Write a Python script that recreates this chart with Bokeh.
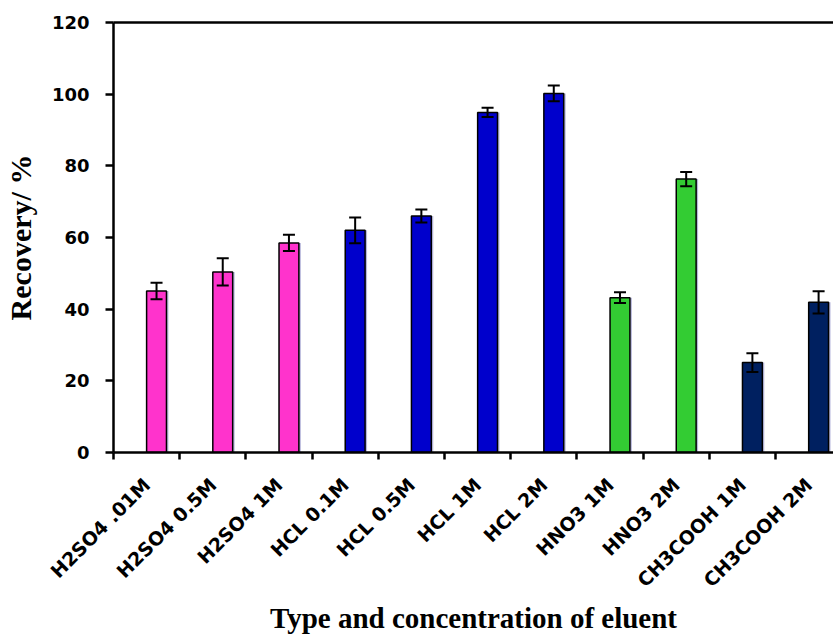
import math
from bokeh.plotting import figure
from bokeh.models import (ColumnDataSource, Range1d, FixedTicker, LinearAxis,
                          Whisker, TeeHead)
from bokeh.embed import file_html
from bokeh.resources import INLINE

# ---- data ----
categories = ["H2SO4 .01M", "H2SO4 0.5M", "H2SO4 1M", "HCL 0.1M", "HCL 0.5M",
              "HCL 1M", "HCL 2M", "HNO3 1M", "HNO3 2M", "CH3COOH 1M", "CH3COOH 2M"]
recovery = [45.1, 50.4, 58.5, 62.0, 66.0, 94.9, 100.2, 43.2, 76.3, 25.1, 41.9]
errors = [2.3, 3.8, 2.3, 3.6, 1.8, 1.3, 2.2, 1.5, 2.0, 2.6, 3.1]
acid_group = ["H2SO4"] * 3 + ["HCL"] * 4 + ["HNO3"] * 2 + ["CH3COOH"] * 2
group_colors = {"H2SO4": "#FF33CC", "HCL": "#0000CC", "HNO3": "#33CC33", "CH3COOH": "#002060"}
y_ticks = [0, 20, 40, 60, 80, 100, 120]

# ---- build ----
n = len(categories)
centers = list(range(n))                   # category centres (label anchors)
bar_x = [c + 0.15 for c in centers]        # bars sit right of the centre
colors = [group_colors[g] for g in acid_group]
src = ColumnDataSource(dict(
    x=bar_x, top=recovery, color=colors,
    shadow_x=[v + 0.03 for v in bar_x],
    upper=[r + e for r, e in zip(recovery, errors)],
    lower=[r - e for r, e in zip(recovery, errors)],
))

p = figure(width=833, height=636, output_backend="svg", toolbar_location=None,
           x_range=Range1d(-0.5, 10.375), y_range=Range1d(0, 120),
           min_border_left=112, min_border_right=0, min_border_top=22,
           min_border_bottom=184)
p.xgrid.visible = False
p.ygrid.visible = False
p.outline_line_color = None
p.background_fill_color = "white"
p.border_fill_color = "white"

# shadow + bars
p.vbar(x="shadow_x", top="top", width=0.3, source=src, fill_color="#b8b8dc",
       line_color=None)
p.vbar(x="x", top="top", width=0.3, source=src, fill_color="color",
       line_color="black", line_width=1.5)

w = Whisker(base="x", upper="upper", lower="lower", source=src,
            line_color="black", line_width=2, level="overlay",
            upper_head=TeeHead(size=12, line_width=2, line_color="black"),
            lower_head=TeeHead(size=12, line_width=2, line_color="black"))
p.add_layout(w)

# x axis
xa = p.xaxis[0]
xa.ticker = FixedTicker(ticks=centers, minor_ticks=[c - 0.5 for c in centers])
xa.major_label_overrides = {c: lab for c, lab in zip(centers, categories)}
xa.major_label_orientation = math.pi / 4
xa.major_tick_out = 0
xa.major_tick_in = 0
xa.minor_tick_out = 7
xa.minor_tick_in = 0
xa.minor_tick_line_width = 2.5
xa.minor_tick_line_color = "black"
xa.axis_line_width = 2.5
xa.axis_line_color = "black"
xa.major_label_text_font = "DejaVu Sans"
xa.major_label_text_font_style = "bold"
xa.major_label_text_font_size = "19px"
xa.major_label_text_color = "black"
xa.major_label_standoff = 22
xa.axis_label = "Type and concentration of eluent"
xa.axis_label_text_font = "Liberation Serif"
xa.axis_label_text_font_style = "bold"
xa.axis_label_text_font_size = "29px"
xa.axis_label_text_color = "black"
xa.axis_label_standoff = 0

# y axis
ya = p.yaxis[0]
ya.ticker = FixedTicker(ticks=y_ticks)
ya.minor_tick_line_color = None
ya.major_tick_out = 8
ya.major_tick_in = 0
ya.major_tick_line_width = 2.5
ya.major_tick_line_color = "black"
ya.axis_line_width = 2.5
ya.axis_line_color = "black"
ya.major_label_text_font = "DejaVu Sans"
ya.major_label_text_font_style = "bold"
ya.major_label_text_font_size = "18px"
ya.major_label_text_color = "black"
ya.major_label_standoff = 16
ya.axis_label = "Recovery/ %"
ya.axis_label_text_font = "Liberation Serif"
ya.axis_label_text_font_style = "bold"
ya.axis_label_text_font_size = "30px"
ya.axis_label_text_color = "black"
ya.axis_label_standoff = 12

# top border line
top = LinearAxis(ticker=FixedTicker(ticks=[]), major_label_text_font_size="0px",
                 axis_line_width=2.5, axis_line_color="black",
                 major_tick_line_color=None, minor_tick_line_color=None)
p.add_layout(top, "above")

open("out.html", "w").write(file_html(p, INLINE))
